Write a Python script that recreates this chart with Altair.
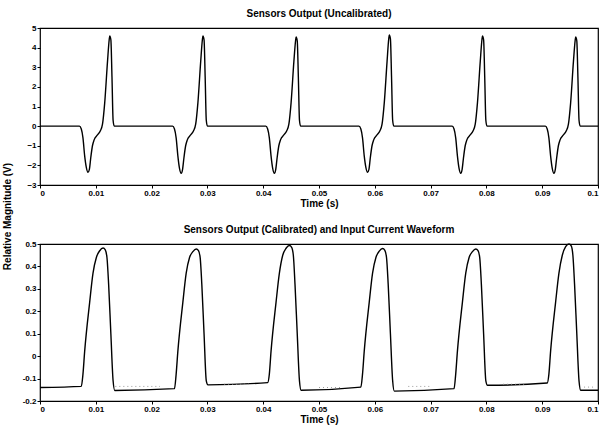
import altair as alt
import pandas as pd

FONT = "Liberation Sans"

# ---------------- Top panel: Sensors Output (Uncalibrated) ----------------
top_t = [0.0,
         0.00706, 0.0074, 0.0077, 0.0080, 0.0083, 0.0086, 0.00885, 0.0091, 0.0094, 0.0097, 0.0103, 0.0108, 0.0112, 0.0116, 0.0121, 0.0124, 0.0125, 0.0127, 0.0129, 0.0131, 0.0133,
         0.02376, 0.0241, 0.0244, 0.0247, 0.0250, 0.0253, 0.02555, 0.0258, 0.0261, 0.0264, 0.0270, 0.0275, 0.0279, 0.0283, 0.0288, 0.0291, 0.0292, 0.0294, 0.0296, 0.0298, 0.0300,
         0.04046, 0.0408, 0.0411, 0.0414, 0.0417, 0.0420, 0.04225, 0.0425, 0.0428, 0.0431, 0.0437, 0.0442, 0.0446, 0.0450, 0.0455, 0.0458, 0.0459, 0.0461, 0.0463, 0.0465, 0.0467,
         0.05716, 0.0575, 0.0578, 0.0581, 0.0584, 0.0587, 0.05895, 0.0592, 0.0595, 0.0598, 0.0604, 0.0609, 0.0613, 0.0617, 0.0622, 0.0625, 0.0626, 0.0628, 0.0630, 0.0632, 0.0634,
         0.07386, 0.0742, 0.0745, 0.0748, 0.0751, 0.0754, 0.07565, 0.0759, 0.0762, 0.0765, 0.0771, 0.0776, 0.0780, 0.0784, 0.0789, 0.0792, 0.0793, 0.0795, 0.0797, 0.0799, 0.0801,
         0.09056, 0.0909, 0.0912, 0.0915, 0.0918, 0.0921, 0.09235, 0.0926, 0.0929, 0.0932, 0.0938, 0.0943, 0.0947, 0.0951, 0.0956, 0.0959, 0.0960, 0.0962, 0.0964, 0.0966, 0.0968,
         0.1]
top_v = [0.0,
         0.0, -0.15, -0.6, -1.5, -2.1, -2.35, -2.2, -1.6, -1.0, -0.7, -0.45, -0.25, 0.1, 1.2, 3.3, 4.4, 4.6, 4.4, 2.5, 0.3, 0.0,
         0.0, -0.15, -0.6, -1.5, -2.15, -2.4, -2.2, -1.6, -1.0, -0.7, -0.45, -0.25, 0.1, 1.2, 3.3, 4.4, 4.6, 4.4, 2.5, 0.3, 0.0,
         0.0, -0.15, -0.6, -1.5, -2.15, -2.4, -2.2, -1.6, -1.0, -0.7, -0.45, -0.25, 0.1, 1.2, 3.3, 4.35, 4.55, 4.35, 2.5, 0.3, 0.0,
         0.0, -0.15, -0.6, -1.5, -2.1, -2.35, -2.2, -1.6, -1.0, -0.7, -0.45, -0.25, 0.1, 1.2, 3.3, 4.45, 4.65, 4.45, 2.5, 0.3, 0.0,
         0.0, -0.15, -0.6, -1.5, -2.15, -2.4, -2.2, -1.6, -1.0, -0.7, -0.45, -0.25, 0.1, 1.2, 3.3, 4.4, 4.6, 4.4, 2.5, 0.3, 0.0,
         0.0, -0.15, -0.6, -1.5, -2.15, -2.4, -2.2, -1.6, -1.0, -0.7, -0.45, -0.25, 0.1, 1.2, 3.3, 4.35, 4.55, 4.35, 2.5, 0.3, 0.0,
         0.0]
top_yticks = [-3, -2, -1, 0, 1, 2, 3, 4, 5]

# ---------------- Bottom panel: calibrated output ----------------
bot_t = [0.0,
         0.0074, 0.0077, 0.0080, 0.0089, 0.0095, 0.0101, 0.0107, 0.0113, 0.0117, 0.0120, 0.0123, 0.0127, 0.0131, 0.0134,
         0.0241, 0.0244, 0.0247, 0.0256, 0.0262, 0.0268, 0.0274, 0.0280, 0.0284, 0.0287, 0.0290, 0.0294, 0.0298, 0.0301,
         0.0408, 0.0411, 0.0414, 0.0423, 0.0429, 0.0435, 0.0441, 0.0447, 0.0451, 0.0454, 0.0457, 0.0461, 0.0465, 0.0468,
         0.0575, 0.0578, 0.0581, 0.0590, 0.0596, 0.0602, 0.0608, 0.0614, 0.0618, 0.0621, 0.0624, 0.0628, 0.0632, 0.0635,
         0.0742, 0.0745, 0.0748, 0.0757, 0.0763, 0.0769, 0.0775, 0.0781, 0.0785, 0.0788, 0.0791, 0.0795, 0.0799, 0.0802,
         0.0909, 0.0912, 0.0915, 0.0924, 0.0930, 0.0936, 0.0942, 0.0948, 0.0952, 0.0955, 0.0958, 0.0962, 0.0966, 0.0969,
         0.1]
bot_v = [-0.140,
         -0.135, -0.08, 0.02, 0.24, 0.37, 0.44, 0.470, 0.482, 0.474, 0.44, 0.32, 0.10, -0.11, -0.153,
         -0.145, -0.08, 0.02, 0.24, 0.37, 0.44, 0.466, 0.478, 0.470, 0.44, 0.32, 0.10, -0.11, -0.128,
         -0.118, -0.08, 0.02, 0.24, 0.37, 0.45, 0.481, 0.493, 0.485, 0.45, 0.32, 0.10, -0.11, -0.152,
         -0.138, -0.08, 0.02, 0.24, 0.37, 0.44, 0.468, 0.480, 0.472, 0.44, 0.32, 0.10, -0.11, -0.156,
         -0.145, -0.08, 0.02, 0.24, 0.37, 0.44, 0.466, 0.478, 0.470, 0.44, 0.32, 0.10, -0.11, -0.130,
         -0.120, -0.08, 0.02, 0.24, 0.37, 0.45, 0.488, 0.500, 0.492, 0.45, 0.32, 0.10, -0.11, -0.152,
         -0.152]
bot_yticks = [-0.2, -0.1, 0, 0.1, 0.2, 0.3, 0.4, 0.5]

# faint dotted input-current trace, visible only in flat stretches
cur_t = [0.0135, 0.0215, 0.0330, 0.0380, 0.0500, 0.0540, 0.0660, 0.0700, 0.0830, 0.0870, 0.0975, 0.0995]
cur_v = [-0.135, -0.135, -0.125, -0.125, -0.140, -0.140, -0.135, -0.135, -0.125, -0.125, -0.138, -0.138]
cur_seg = [1, 1, 2, 2, 3, 3, 4, 4, 5, 5, 6, 6]

x_ticks = [0, 0.01, 0.02, 0.03, 0.04, 0.05, 0.06, 0.07, 0.08, 0.09, 0.1]

top_df = pd.DataFrame({"t": top_t, "v": top_v})
bot_df = pd.DataFrame({"t": bot_t, "v": bot_v})
cur_df = pd.DataFrame({"t": cur_t, "v": cur_v, "seg": cur_seg})

W, H = 558, 157
lbl = "'' + round(datum.value*100)/100"


def xenc():
    return alt.X("t:Q", scale=alt.Scale(domain=[0, 0.1], nice=False, zero=False),
                 axis=alt.Axis(values=x_ticks, title="Time (s)", labelExpr=lbl))


def title(text):
    return alt.TitleParams(text, font=FONT, fontSize=10, fontWeight="bold",
                           anchor="middle", offset=5, color="black")


top = alt.Chart(top_df).mark_line(color="black", strokeWidth=1.4, interpolate="monotone").encode(
    x=xenc(),
    y=alt.Y("v:Q", scale=alt.Scale(domain=[-3, 5], nice=False),
            axis=alt.Axis(values=top_yticks, title=None)),
).properties(width=W, height=H, title=title("Sensors Output (Uncalibrated)"))


def bot_y():
    return alt.Y("v:Q", scale=alt.Scale(domain=[-0.2, 0.5], nice=False),
                 axis=alt.Axis(values=bot_yticks, title=None, labelExpr=lbl))


bot_main = alt.Chart(bot_df).mark_line(color="black", strokeWidth=1.4, interpolate="monotone").encode(
    x=xenc(), y=bot_y(),
)
bot_cur = alt.Chart(cur_df).mark_line(color="#9a9a9a", strokeWidth=1, strokeDash=[1, 3]).encode(
    x=xenc(), y=bot_y(), detail="seg:N"
)
bottom = alt.layer(bot_main, bot_cur).properties(
    width=W, height=H, title=title("Sensors Output (Calibrated) and Input Current Waveform"))

chart = alt.vconcat(
    top, bottom, spacing=15,
    title=alt.TitleParams("Relative Magnitude (V)", orient="left", anchor="middle",
                          font=FONT, fontSize=10, fontWeight="bold", color="black", offset=9),
).configure(
    padding={"left": 2, "top": 8, "right": 2, "bottom": 2},
    background="white",
).configure_view(
    stroke="black", strokeWidth=1.2
).configure_axis(
    grid=False, domain=False, tickSize=3, tickColor="black",
    labelFont=FONT, labelFontSize=8, labelFontWeight="bold", labelColor="black", labelPadding=1,
    titleFont=FONT, titleFontSize=10, titleFontWeight="bold", titleColor="black", titlePadding=1,
)

chart.save("out.html", embed_options={"renderer": "svg", "actions": False})
